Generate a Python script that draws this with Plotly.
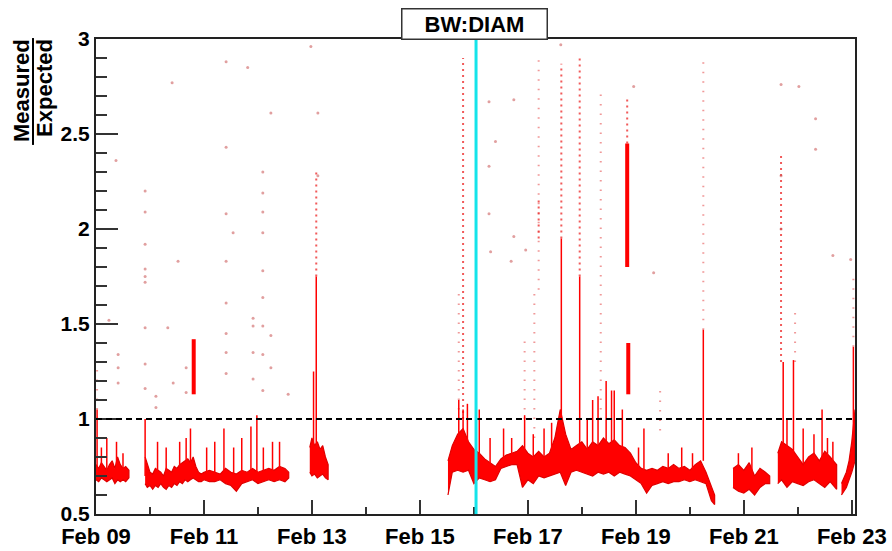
import plotly.graph_objects as go
import pandas as pd

# ---------------- data (times in days since Feb 09 00:00) ----------------
START = pd.Timestamp("2011-02-09 00:00")

# dense band of measured/expected values: upper and lower envelope, None = gap
band_t = [0.0, 0.05, 0.1, 0.15, 0.2, 0.25, 0.3, 0.35, 0.4, 0.45, 0.5, 0.55, 0.61, None,
          0.91, 0.95, 1.0, 1.05, 1.1, 1.15, 1.2, 1.25, 1.3, 1.35, 1.4, 1.45, 1.5, 1.55, 1.6, 1.65,
          1.7, 1.75, 1.8, 1.85, 1.9, 1.95, 2.0, 2.1, 2.2, 2.3, 2.4, 2.5, 2.6, 2.7, 2.8, 2.9, 3.0,
          3.1, 3.2, 3.3, 3.4, 3.5, 3.57, None,
          3.96, 4.0, 4.05, 4.1, 4.15, 4.2, 4.25, 4.3, None,
          6.52, 6.6, 6.7, 6.8, 6.9, 7.0, 7.1, 7.2, 7.3, 7.4, 7.5, 7.6, 7.7, 7.8, 7.9, 8.0, 8.1,
          8.2, 8.3, 8.4, 8.5, 8.6, 8.7, 8.8, 8.9, 9.0, 9.1, 9.2, 9.3, 9.4, 9.5, 9.6, 9.7, 9.8,
          9.9, 10.0, 10.1, 10.2, 10.3, 10.4, 10.5, 10.6, 10.7, 10.8, 10.9, 11.0, 11.1, 11.2,
          11.3, 11.4, 11.46, None,
          11.8, 11.9, 12.0, 12.1, 12.2, 12.3, 12.4, 12.48, None,
          12.63, 12.7, 12.8, 12.9, 13.0, 13.1, 13.2, 13.3, 13.4, 13.5, 13.6, 13.72, None,
          13.81, 13.9, 13.95, 14.0, 14.06]
band_hi = [0.76, 0.74, 0.77, 0.75, 0.73, 0.76, 0.78, 0.74, 0.80, 0.76, 0.74, 0.75, 0.73, None,
           0.80, 0.76, 0.72, 0.71, 0.74, 0.73, 0.72, 0.70, 0.74, 0.73, 0.72, 0.75, 0.74, 0.76, 0.77, 0.78,
           0.79, 0.77, 0.80, 0.75, 0.72, 0.71, 0.72, 0.73, 0.72, 0.71, 0.74, 0.72, 0.71, 0.73, 0.72, 0.74, 0.72,
           0.73, 0.74, 0.73, 0.75, 0.74, 0.72, None,
           0.85, 0.90, 0.86, 0.88, 0.84, 0.86, 0.80, 0.76, None,
           0.78, 0.86, 0.92, 0.95, 0.88, 0.84, 0.82, 0.79, 0.77, 0.75, 0.79, 0.81, 0.82, 0.83, 0.86, 0.82, 0.80,
           0.83, 0.80, 0.82, 0.90, 1.05, 0.92, 0.84, 0.86, 0.88, 0.84, 0.88, 0.86, 0.90, 0.87, 0.89, 0.86, 0.85,
           0.82, 0.77, 0.74, 0.73, 0.74, 0.73, 0.75, 0.74, 0.76, 0.74, 0.75, 0.73, 0.76, 0.78,
           0.72, 0.64, 0.60, None,
           0.74, 0.76, 0.73, 0.77, 0.70, 0.74, 0.72, 0.70, None,
           0.82, 0.88, 0.86, 0.84, 0.80, 0.76, 0.80, 0.82, 0.78, 0.83, 0.80, 0.76, None,
           0.66, 0.72, 0.78, 0.88, 1.05]
band_lo = [0.68, 0.67, 0.69, 0.68, 0.67, 0.68, 0.69, 0.66, 0.68, 0.67, 0.68, 0.67, 0.69, None,
           0.66, 0.64, 0.65, 0.63, 0.65, 0.64, 0.66, 0.64, 0.63, 0.65, 0.64, 0.66, 0.65, 0.67, 0.66, 0.68,
           0.67, 0.68, 0.69, 0.68, 0.67, 0.67, 0.68, 0.67, 0.67, 0.68, 0.66, 0.65, 0.62, 0.66, 0.67, 0.68, 0.66,
           0.67, 0.68, 0.67, 0.68, 0.67, 0.69, None,
           0.72, 0.70, 0.71, 0.69, 0.70, 0.71, 0.69, 0.68, None,
           0.60, 0.72, 0.73, 0.72, 0.73, 0.66, 0.69, 0.68, 0.67, 0.68, 0.74, 0.75, 0.76, 0.76, 0.64, 0.68, 0.66,
           0.70, 0.69, 0.70, 0.71, 0.72, 0.65, 0.72, 0.73, 0.72, 0.71, 0.70, 0.72, 0.71, 0.72, 0.70, 0.72, 0.71,
           0.70, 0.68, 0.66, 0.61, 0.65, 0.66, 0.67, 0.66, 0.67, 0.67, 0.68, 0.67, 0.68, 0.67,
           0.66, 0.57, 0.55, None,
           0.64, 0.62, 0.61, 0.63, 0.60, 0.64, 0.66, 0.66, None,
           0.66, 0.68, 0.64, 0.67, 0.66, 0.65, 0.67, 0.68, 0.66, 0.64, 0.67, 0.63, None,
           0.60, 0.64, 0.68, 0.72, 0.78]

# dense narrow excursions (time, lower value, upper value)
spike_t = [0.02, 0.10, 0.20, 0.38, 0.50, 0.91, 1.14, 1.30, 1.55, 1.67, 1.75, 2.05, 2.20, 2.37,
           2.55, 2.70, 2.87, 2.98, 3.10, 3.27, 3.40, 4.03, 4.08,
           6.72, 6.80, 6.88, 7.10, 7.30, 7.55, 7.70, 7.94, 8.10, 8.30, 8.44, 8.62, 8.96,
           9.10, 9.20, 9.30, 9.45, 9.55, 9.60, 9.75, 10.05, 10.15, 10.60, 10.85, 11.05, 11.25,
           11.90, 12.15, 12.73, 12.80, 12.92, 13.10, 13.30, 13.45, 13.55, 13.65, 14.03]
spike_lo = [0.75, 0.72, 0.72, 0.75, 0.72, 0.70, 0.70, 0.70, 0.72, 0.72, 0.74, 0.70, 0.70, 0.70,
            0.70, 0.70, 0.70, 0.70, 0.70, 0.70, 0.70, 0.80, 0.80,
            0.80, 0.80, 0.75, 0.75, 0.74, 0.78, 0.78, 0.75, 0.75, 0.76, 0.75, 0.75, 0.80,
            0.80, 0.80, 0.80, 0.80, 0.80, 0.80, 0.80, 0.72, 0.72, 0.70, 0.70, 0.70, 0.78,
            0.70, 0.70, 0.80, 0.80, 0.80, 0.76, 0.78, 0.78, 0.78, 0.76, 0.90]
spike_hi = [1.05, 0.85, 0.90, 0.88, 0.82, 1.00, 0.88, 0.85, 0.88, 0.90, 0.95, 0.85, 0.88, 0.95,
            0.85, 0.90, 0.96, 1.02, 0.85, 0.88, 0.88, 1.25, 1.75,
            1.10, 1.05, 1.08, 1.05, 0.90, 0.95, 0.90, 1.02, 0.92, 0.95, 0.98, 1.95, 1.75,
            1.00, 1.10, 1.12, 1.20, 1.15, 1.15, 1.05, 0.85, 0.95, 0.82, 0.85, 0.82, 1.47,
            0.82, 0.85, 1.30, 1.00, 1.31, 0.95, 0.92, 1.05, 0.90, 0.88, 1.38]

# compact dense clusters (time, lower value, upper value)
cluster_t = [1.81, 9.84, 9.86]
cluster_lo = [1.13, 1.80, 1.13]
cluster_hi = [1.42, 2.45, 1.40]

# closely spaced runs of readings above the dense spikes (time, lower, upper)
run_t = [4.08, 6.80, 8.20, 8.62, 8.96, 9.84, 12.69]
run_lo = [1.75, 1.00, 1.95, 1.95, 1.75, 2.45, 1.30]
run_hi = [2.30, 2.90, 2.15, 2.87, 2.90, 2.70, 2.40]

# sparse vertical streaks of isolated readings (time, lower value, upper value)
streak_t = [0.02, 6.72, 7.94, 8.12, 8.20, 9.35, 10.45, 11.25, 12.95, 14.03]
streak_lo = [1.00, 1.00, 1.00, 0.90, 1.68, 1.00, 0.94, 1.47, 1.30, 1.38]
streak_hi = [1.30, 1.70, 1.45, 1.66, 2.93, 2.72, 1.17, 2.90, 1.60, 1.75]

# isolated readings
dot_t = [3.98, 2.41, 2.81, 1.41, 3.24, 4.11, 2.41, 0.37, 3.09, 4.11, 0.91, 3.09, 0.91, 2.41,
         3.09, 2.54, 3.09, 0.91, 1.52, 2.41, 0.91, 0.91, 3.09,
         7.28, 7.74, 7.40, 7.28, 7.28, 7.74, 7.96, 7.31, 7.69, 10.33, 9.96, 12.69, 13.02,
         13.33, 13.33, 12.69, 12.69, 13.65, 13.98, 8.61,
         0.91, 0.91, 0.91, 0.91, 1.33, 1.43, 2.41, 2.41, 2.41, 2.41, 2.91, 2.91, 2.91, 2.91,
         3.09, 3.09, 3.09, 3.09, 3.24, 3.24, 3.56, 0.41, 0.41, 0.41, 0.24, 1.67, 1.67, 1.11, 1.11]
dot_v = [2.96, 2.88, 2.85, 2.77, 2.61, 2.61, 2.43, 2.36, 2.30, 2.28, 2.20, 2.19, 2.09, 2.08,
         2.09, 1.98, 1.98, 1.92, 1.83, 1.83, 1.79, 1.75, 1.78,
         2.67, 2.68, 2.46, 2.33, 2.08, 1.96, 1.89, 1.88, 1.83, 1.77, 2.75, 2.76, 2.75,
         2.58, 2.42, 2.28, 2.00, 1.86, 1.84, 2.97,
         1.72, 1.48, 1.29, 1.16, 1.48, 1.19, 1.61, 1.45, 1.35, 1.24, 1.53, 1.49, 1.35, 1.21,
         1.64, 1.49, 1.34, 1.15, 1.44, 1.27, 1.13, 1.34, 1.27, 1.19, 1.52, 1.27, 1.14, 1.12, 1.06]

y_tick_vals = [0.5, 1.0, 1.5, 2.0, 2.5, 3.0]
y_tick_text = ["0.5", "1", "1.5", "2", "2.5", "3"]
marker_time = 7.04          # vertical cyan marker (days)
ref_level = 1.0             # expected level
x_end = 14.06
y_range = [0.5, 3.0]
title_text = "BW:DIAM"
ytitle_top = "Measured"
ytitle_bottom = "Expected"


def ts(d):
    if d is None:
        return None
    return (START + pd.Timedelta(days=d)).strftime("%Y-%m-%d %H:%M:%S")


RED = "#ff0000"
fig = go.Figure()

# band polygons (one per contiguous segment)
seg = []
for t, hi, lo in list(zip(band_t, band_hi, band_lo)) + [(None, None, None)]:
    if t is None:
        if seg:
            xs = [ts(s[0]) for s in seg] + [ts(s[0]) for s in reversed(seg)]
            ys = [s[1] for s in seg] + [s[2] for s in reversed(seg)]
            fig.add_trace(go.Scatter(x=xs, y=ys, mode="lines", fill="toself",
                                     fillcolor=RED, line=dict(color="#e00000", width=1.2),
                                     hoverinfo="skip", showlegend=False))
        seg = []
    else:
        seg.append((t, hi, lo))


def vsegs(ts_list, lo_list, hi_list):
    xs, ys = [], []
    for t, lo, hi in zip(ts_list, lo_list, hi_list):
        xs += [ts(t), ts(t), None]
        ys += [lo, hi, None]
    return xs, ys


xs, ys = vsegs(streak_t, streak_lo, streak_hi)
fig.add_trace(go.Scatter(x=xs, y=ys, mode="lines",
                         line=dict(color="rgba(225,50,50,0.5)", width=2, dash="1.5px,8px"),
                         hoverinfo="skip", showlegend=False))

xs, ys = vsegs(run_t, run_lo, run_hi)
fig.add_trace(go.Scatter(x=xs, y=ys, mode="lines",
                         line=dict(color="rgba(235,20,20,0.7)", width=2, dash="2px,4px"),
                         hoverinfo="skip", showlegend=False))

xs, ys = vsegs(spike_t, spike_lo, spike_hi)
fig.add_trace(go.Scatter(x=xs, y=ys, mode="lines",
                         line=dict(color=RED, width=1.5),
                         hoverinfo="skip", showlegend=False))

xs, ys = vsegs(cluster_t, cluster_lo, cluster_hi)
fig.add_trace(go.Scatter(x=xs, y=ys, mode="lines",
                         line=dict(color=RED, width=4),
                         hoverinfo="skip", showlegend=False))

fig.add_trace(go.Scatter(x=[ts(t) for t in dot_t], y=dot_v, mode="markers",
                         marker=dict(color="rgba(200,80,80,0.55)", size=3),
                         hoverinfo="skip", showlegend=False))

# reference line and marker line
fig.add_shape(type="line", xref="paper", x0=0, x1=1, yref="y", y0=ref_level, y1=ref_level,
              line=dict(color="black", width=2, dash="6px,4px"))
fig.add_shape(type="line", xref="x", x0=ts(marker_time), x1=ts(marker_time),
              yref="paper", y0=0, y1=1, line=dict(color="#14e4ea", width=3))

FAM = "Liberation Sans, Arial, sans-serif"
YFONT = dict(family=FAM, size=21, color="black", weight="bold")
XFONT = dict(family=FAM, size=22, color="black", weight="bold")

fig.update_layout(
    width=892, height=551,
    margin=dict(l=96, r=37, t=39, b=37, autoexpand=False),
    paper_bgcolor="white", plot_bgcolor="white",
    showlegend=False,
    xaxis=dict(
        type="date", range=[ts(0), ts(x_end)], automargin=False,
        tick0=ts(0), dtick=2 * 86400000, tickformat="%b %d",
        ticks="inside", ticklen=14, tickwidth=1.5, tickcolor="#333",
        minor=dict(dtick=86400000, ticks="inside", ticklen=7, tickwidth=1.5, tickcolor="#333"),
        showline=True, linecolor="#222", linewidth=2, mirror=True,
        showgrid=False, zeroline=False, tickfont=XFONT, ticklabelstandoff=2,
    ),
    yaxis=dict(
        range=y_range, automargin=False,
        tickmode="array", tickvals=y_tick_vals, ticktext=y_tick_text,
        ticks="inside", ticklen=22, tickwidth=1.5, tickcolor="#333",
        minor=dict(dtick=0.1, tick0=0.5, ticks="inside", ticklen=11, tickwidth=1.5, tickcolor="#333"),
        showline=True, linecolor="#222", linewidth=2, mirror=True,
        showgrid=False, zeroline=False, tickfont=YFONT,
    ),
)

# title box
fig.add_annotation(text=title_text, xref="paper", yref="paper", x=0.4993, y=1.0316,
                   xanchor="center", yanchor="middle", showarrow=False,
                   font=dict(family=FAM, size=22, color="black", weight="bold"),
                   bgcolor="white", bordercolor="#333", borderwidth=1.5,
                   width=144, height=29, borderpad=0)

# fraction-style y title
TFONT = dict(family=FAM, size=22, color="black", weight="bold")
fig.add_annotation(text=ytitle_top, xref="paper", yref="paper", x=-0.0988, y=0.8905,
                   xanchor="center", yanchor="middle", textangle=-90, showarrow=False, font=TFONT)
fig.add_annotation(text=ytitle_bottom, xref="paper", yref="paper", x=-0.0672, y=0.897,
                   xanchor="center", yanchor="middle", textangle=-90, showarrow=False, font=TFONT)
fig.add_shape(type="line", xref="paper", yref="paper", x0=-0.083, x1=-0.083,
              y0=1.002, y1=0.777, line=dict(color="black", width=2))

# remove the default page margin so the 892x551 figure fills the window exactly
fig.write_html("out.html",
               config={"displayModeBar": False, "staticPlot": True},
               post_script="document.body.style.margin='0px';document.body.style.overflow='hidden';")
